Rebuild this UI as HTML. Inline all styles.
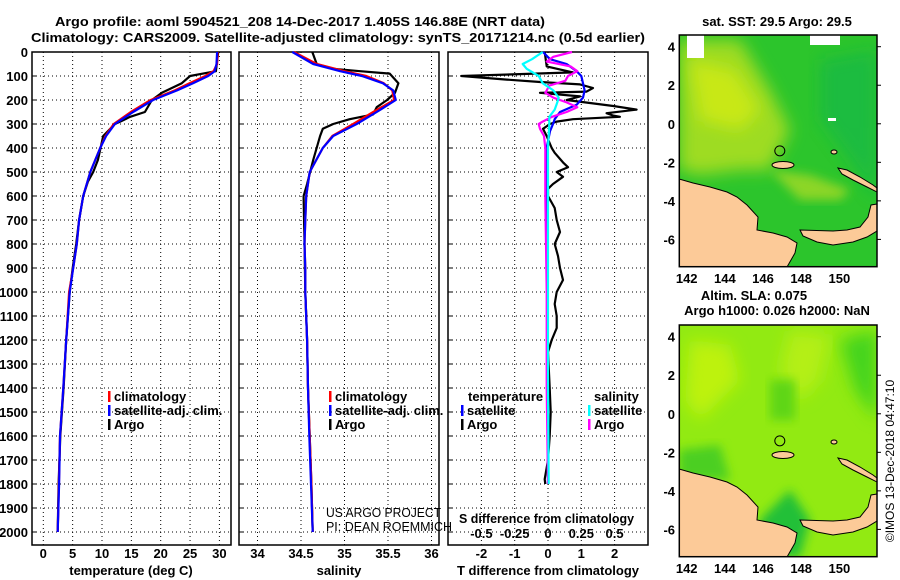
<!DOCTYPE html>
<html><head><meta charset="utf-8"><style>
html,body{margin:0;padding:0;background:#fff;}
svg{display:block;font-family:"Liberation Sans",sans-serif;}
.b{font-weight:bold;font-size:13px;}
</style></head><body>
<svg id="fig" width="900" height="580" viewBox="0 0 900 580" xmlns="http://www.w3.org/2000/svg">
<defs>
<clipPath id="cm1"><rect x="679.3" y="35" width="197.7" height="231.7"/></clipPath>
<clipPath id="cm2"><rect x="679.3" y="325" width="197.7" height="231.7"/></clipPath>
<filter id="bl" x="-20%" y="-20%" width="140%" height="140%"><feGaussianBlur stdDeviation="8"/></filter>
<filter id="bl2" x="-20%" y="-20%" width="140%" height="140%"><feGaussianBlur stdDeviation="5"/></filter>
</defs>
<text class="b" x="55" y="26" font-size="14" textLength="490" lengthAdjust="spacingAndGlyphs">Argo profile: aoml 5904521_208 14-Dec-2017 1.405S 146.88E (NRT data)</text>
<text class="b" x="31" y="42" font-size="14" textLength="614" lengthAdjust="spacingAndGlyphs">Climatology: CARS2009. Satellite-adjusted climatology: synTS_20171214.nc (0.5d earlier)</text>
<g id="charts"></g>

<g id="map1">
 <g clip-path="url(#cm1)">
  <rect x="679" y="35" width="198" height="232" fill="#2cc52c"/>
  <polygon points="679,40 740,40 770,90 790,130 770,170 740,170 700,175 679,170" fill="#9edc22" filter="url(#bl)"/>
  <polygon points="690,60 735,70 760,110 740,130 700,120" fill="#c8e818" filter="url(#bl)"/>
  <polygon points="770,170 810,175 850,190 840,200 800,200" fill="#8cd628" filter="url(#bl2)"/>
  <polygon points="820,60 877,50 877,200 850,160 820,120" fill="#16b84a" filter="url(#bl)" opacity="0.7"/>
  <rect x="687" y="35" width="17" height="23" fill="#fff"/>
  <rect x="810" y="35" width="30" height="10" fill="#fff"/>
  <rect x="828" y="118" width="8" height="3" fill="#fff"/>
  <g class="land1"></g>
 </g>
 <rect x="679.3" y="35" width="197.7" height="231.7" fill="none" stroke="#000" stroke-width="1.5"/>
 <text class="b" x="777" y="26" text-anchor="middle">sat. SST: 29.5 Argo: 29.5</text>
</g>

<g id="map2">
 <g clip-path="url(#cm2)">
  <rect x="679" y="325" width="198" height="232" fill="#92ea12"/>
  <polygon points="690,340 730,345 740,380 700,420 685,400" fill="#bdf20e" filter="url(#bl)"/>
  <polygon points="790,330 830,335 820,380 800,400 780,370" fill="#b4ef14" filter="url(#bl)"/>
  <polygon points="840,340 877,330 877,420 855,390" fill="#44d41e" filter="url(#bl)"/>
  <polygon points="770,380 795,380 795,420 770,420" fill="#5ed618" filter="url(#bl2)"/>
  <polygon points="679,450 720,445 730,480 679,480" fill="#4ccf22" filter="url(#bl2)"/>
  <polygon points="760,520 790,490 810,520 800,557 760,557" fill="#22c038" filter="url(#bl2)"/>
  <g class="land2"></g>
 </g>
 <rect x="679.3" y="325" width="197.7" height="231.7" fill="none" stroke="#000" stroke-width="1.5"/>
 <text class="b" x="754" y="300" text-anchor="middle">Altim. SLA: 0.075</text>
 <text class="b" x="777" y="315" text-anchor="middle">Argo h1000: 0.026 h2000: NaN</text>
 <text transform="translate(894,461) rotate(-90)" text-anchor="middle" font-size="12">©IMOS 13-Dec-2018 04:47:10</text>
</g>
</svg>
<script>
// ---------- data ----------
const depthClim = [0,50,80,100,130,160,200,250,300,350,400,500,600,700,800,900,1000,1200,1400,1600,1800,2000];
const tempSat   = [29.6,29.5,29.2,28.1,25.5,22.8,18.7,15.3,12.2,10.7,9.7,8.0,6.8,6.1,5.7,5.1,4.5,3.9,3.4,2.85,2.7,2.45];
const tempClim  = [29.7,29.6,29.0,27.6,24.9,22.4,18.3,14.9,12.0,10.6,9.7,8.0,6.8,6.1,5.7,5.1,4.4,3.9,3.4,2.85,2.65,2.45];
const salSat    = [34.40,34.64,34.95,35.20,35.44,35.56,35.59,35.37,35.14,34.87,34.75,34.60,34.56,34.55,34.54,34.55,34.55,34.57,34.58,34.595,34.615,34.635];
const salClim   = [34.42,34.68,35.00,35.25,35.45,35.55,35.57,35.33,35.10,34.86,34.75,34.60,34.56,34.55,34.54,34.55,34.55,34.57,34.58,34.60,34.62,34.635];
const depthArgoT = [0,80,90,100,130,170,200,250,270,290,300,350,450,500,540,600,700,800,900,1000,1200,1400,1600,1800,2000];
const tempArgo   = [29.8,29.4,27.2,25.0,23.6,20.2,18.5,17.3,14.8,13.1,12.2,10.2,9.3,8.5,7.6,6.8,6.1,5.6,5.0,4.5,3.9,3.45,2.9,2.6,2.45];
const depthArgoS = [0,50,70,80,90,130,170,200,230,260,280,300,320,350,450,550,600,800,1000,1200,1400,1600,1800,2000];
const salArgo    = [34.63,34.68,34.87,35.18,35.52,35.62,35.58,35.49,35.37,35.33,35.06,34.87,34.75,34.72,34.64,34.57,34.53,34.54,34.55,34.57,34.58,34.60,34.62,34.635];
const depthDiffT = [0,60,85,100,115,125,135,150,165,170,185,200,225,240,255,265,270,280,290,300,320,350,400,420,460,480,500,520,550,570,600,650,700,750,800,850,900,950,1000,1050,1100,1150,1200,1250,1400,1500,1600,1700,1780,1800];
const diffTArgo  = [-0.1,-0.04,0.75,-2.6,-1.24,-0.24,0.96,1.35,1.16,-0.24,0.96,0.56,1.96,2.66,1.76,1.96,2.16,0.75,0.26,0.06,-0.15,-0.04,0.11,0.2,0.45,0.6,0.26,0.45,0.15,0.0,0.0,0.2,0.26,0.36,0.2,0.3,0.36,0.45,0.26,0.2,0.26,0.26,0.11,0.0,0.05,0.08,0.05,0.0,-0.1,-0.08];
const depthDiffSat = [0,30,50,80,100,130,160,190,220,250,280,300,330,400,500,700,1000,1400,1800];
const diffTSat   = [-0.15,0.06,0.56,0.86,1.0,1.05,1.1,1.05,0.86,0.36,0.2,0.15,0.06,-0.04,-0.06,-0.03,-0.02,0.0,0.0];
const depthDiffSS = [0,30,50,70,100,130,160,190,210,240,270,300,400,600,1000,1400,1800];
const diffSSat   = [-0.04,-0.12,-0.19,-0.16,-0.07,-0.04,0.04,0.08,0.07,0.05,0.01,0.01,0.0,0.0,0.0,0.0,0.005];
const depthDiffSA = [0,20,40,60,80,100,120,140,160,170,190,210,230,250,270,290,300,320,350,400,500,600,1000,1400,1800];
const diffSArgo  = [0.18,0.04,-0.01,0.17,0.22,0.15,0.13,0.01,-0.01,-0.02,0.04,0.14,0.22,0.14,0.03,-0.04,-0.07,-0.06,-0.03,-0.02,-0.02,-0.02,-0.01,-0.01,0.0];
const depthTicks = [0,100,200,300,400,500,600,700,800,900,1000,1100,1200,1300,1400,1500,1600,1700,1800,1900,2000];
const tempTicks = [0,5,10,15,20,25,30];
const salTicks = [34,34.5,35,35.5,36];
const salTickLabels = ["34","34.5","35","35.5","36"];
const diffTTicks = [-2,-1,0,1,2];
const diffSTicks = [-0.5,-0.25,0,0.25,0.5];
const diffSTickLabels = ["-0.5","-0.25","0","0.25","0.5"];

// ---------- axes ----------
const yD = d => 52 + 0.24*d;
const xT = t => 43.3 + 5.87*t;
const xS = s => 257.5 + 87*(s-34);
const xDT = t => 548 + 33.3*t;
const xDS = s => 548 + 133.2*s;
const NS = "http://www.w3.org/2000/svg";
const root = document.getElementById('charts');
function mk(tag, attrs, parent){ const e=document.createElementNS(NS,tag); for(const k in attrs) e.setAttribute(k,attrs[k]); (parent||root).appendChild(e); return e; }

const panels = [
 {x0:32,x1:231,name:'temperature-panel',ticks:tempTicks,labels:tempTicks.map(String),fx:xT,title:'temperature (deg C)',tx:131},
 {x0:239,x1:439,name:'salinity-panel',ticks:salTicks,labels:salTickLabels,fx:xS,title:'salinity',tx:339},
 {x0:448,x1:648,name:'difference-panel',ticks:diffTTicks,labels:diffTTicks.map(String),fx:xDT,title:'T difference from climatology',tx:548}
];
panels.forEach(p=>{
  const g = mk('g',{});
  
  
  depthTicks.forEach(d=>{
    if(d>0){ const l=mk('line',{x1:p.x0,x2:p.x1,y1:yD(d),y2:yD(d),stroke:'#000','stroke-width':1,'stroke-dasharray':'1 3'},g);
      
       }
    const tk=mk('line',{x1:p.x0,x2:p.x0+4,y1:yD(d),y2:yD(d),stroke:'#000'},g);
    
    
  });
  p.ticks.forEach((t,i)=>{
    const l=mk('line',{x1:p.fx(t),x2:p.fx(t),y1:52,y2:545,stroke:'#000','stroke-width':1,'stroke-dasharray':'1 3'},g);
    
    
    const tx=mk('text',{x:p.fx(t),y:558,'text-anchor':'middle',class:'b'},g);
    tx.textContent=p.labels[i];
    
    
  });
  const fr=mk('rect',{x:p.x0,y:52,width:p.x1-p.x0,height:493,fill:'none',stroke:'#000','stroke-width':1.5},g);
  
  
  const tt=mk('text',{x:p.tx,y:575,'text-anchor':'middle',class:'b'},g);
  tt.textContent=p.title;
  
  
});
depthTicks.forEach(d=>{
  const t=mk('text',{x:28,y:yD(d)+5,'text-anchor':'end',class:'b'});
  t.textContent=String(d);
  
  
});
// S diff secondary axis labels
diffSTicks.forEach((s,i)=>{
  const t=mk('text',{x:xDS(s),y:538,'text-anchor':'middle',class:'b'});
  t.textContent=diffSTickLabels[i];
  
  
});
{ const t=mk('text',{x:459,y:523,class:'b',textLength:175,lengthAdjust:'spacingAndGlyphs'}); t.textContent='S difference from climatology';
  
   }

function line(depths, vals, fx, color, name){
  const pts = depths.map((d,i)=>fx(vals[i]).toFixed(1)+','+yD(d).toFixed(1)).join(' ');
  const pl=mk('polyline',{points:pts,fill:'none',stroke:color,'stroke-width':2.2,'stroke-linejoin':'round'});
  
  
}
line(depthArgoT,tempArgo,xT,'#000','temp-argo-line');
line(depthClim,tempClim,xT,'#f00','temp-climatology-line');
line(depthClim,tempSat,xT,'#00f','temp-satellite-line');
line(depthArgoS,salArgo,xS,'#000','salinity-argo-line');
line(depthClim,salClim,xS,'#f00','salinity-climatology-line');
line(depthClim,salSat,xS,'#00f','salinity-satellite-line');
line(depthDiffT,diffTArgo,xDT,'#000','t-diff-argo-line');
line(depthDiffSat,diffTSat,xDT,'#00f','t-diff-satellite-line');
line(depthDiffSA,diffSArgo,xDS,'#f0f','s-diff-argo-line');
line(depthDiffSS,diffSSat,xDS,'#0ff','s-diff-satellite-line');

// legends
function leg(x,y,color,label){
  const g=mk('g',{});
  
  
  if(color) mk('rect',{x:x,y:y-10,width:2.5,height:11,fill:color},g);
  const t=mk('text',{x:x+(color?6:0),y:y,class:'b'},g); t.textContent=label;
}
leg(108,401,'#f00','climatology'); leg(108,415,'#00f','satellite-adj. clim.'); leg(108,429,'#000','Argo');
leg(329,401,'#f00','climatology'); leg(329,415,'#00f','satellite-adj. clim.'); leg(329,429,'#000','Argo');
leg(468,401,null,'temperature'); leg(461,415,'#00f','satellite'); leg(461,429,'#000','Argo');
leg(594,401,null,'salinity'); leg(588,415,'#0ff','satellite'); leg(588,429,'#f0f','Argo');
{ const t1=mk('text',{x:326,y:517,'font-size':13,textLength:115,lengthAdjust:'spacingAndGlyphs'}); t1.textContent='US ARGO PROJECT';
  
  
  const t2=mk('text',{x:326,y:531,'font-size':13,textLength:126,lengthAdjust:'spacingAndGlyphs'}); t2.textContent='PI: DEAN ROEMMICH';
  
   }

// ---------- maps ----------
const lonTicks=[142,144,146,148,150];
const latTicks=[4,2,0,-2,-4,-6];
const mx = lon => 686.7 + (lon-142)*19.08;
const myLat = (lat,off) => 46.7 + (4-lat)*19.27 + off;
const landNG="679,179 693,183 710,187 727,192 737,197 747,205 758,217 757,230 773,233 787,237 797,243 795,253 787,267 679,267";
const landNB="800,230 833,231 847,230 860,227 868,217 871,205 877,204 877,231 867,237 853,242 833,245 817,242 803,236";
const landNI="838,168 847,170 860,177 873,185 877,188 877,192 867,187 853,180 842,174";
[[document.querySelector('#map1 .land1'),0],[document.querySelector('#map2 .land2'),290]].forEach(([g,off])=>{
  const shift = pts => pts.split(' ').map(p=>{const [a,b]=p.split(',');return a+','+(+b+off);}).join(' ');
  [landNG,landNB,landNI].forEach(p=>{
    const pg=mk('polygon',{points:shift(p),fill:'#fcca98',stroke:'#000','stroke-width':1},g);
    
    
  });
  const e1=mk('ellipse',{cx:783,cy:165+off,rx:11,ry:3.5,fill:'#fcca98',stroke:'#000'},g);
  
  
  const e2=mk('ellipse',{cx:834,cy:152+off,rx:3,ry:2,fill:'#fcca98',stroke:'#000'},g);
  
  
  const c=mk('circle',{cx:mx(146.88),cy:myLat(-1.405,off),r:5,fill:'none',stroke:'#000','stroke-width':1},g);
  
  
  const host=g.closest('g[id]');
  lonTicks.forEach(l=>{
    const t=mk('text',{x:mx(l),y:283+off,'text-anchor':'middle',class:'b'},host); t.textContent=String(l);
    
    
  });
  latTicks.forEach(l=>{
    const t=mk('text',{x:675,y:myLat(l,off)+5,'text-anchor':'end',class:'b'},host); t.textContent=String(l);
    
    
    mk('line',{x1:877,x2:881,y1:myLat(l,off),y2:myLat(l,off),stroke:'#000'},host);
  });
});
</script>
</body></html>
